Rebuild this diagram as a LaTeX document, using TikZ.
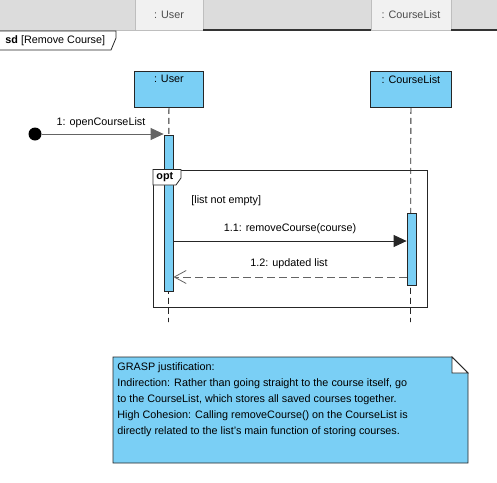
\documentclass[tikz,border=0pt]{standalone}
\usepackage{fontspec}
\setmainfont{Liberation Sans}
\usetikzlibrary{arrows.meta, positioning}
\definecolor{lifeblue}{RGB}{122,207,245}
\definecolor{hdrgray}{RGB}{220,220,220}
\definecolor{tabgray}{RGB}{241,241,241}
\definecolor{edgegray}{RGB}{190,190,190}
\definecolor{msggray}{RGB}{100,100,100}

\tikzset{
  txt/.style = {font=\fontsize{10.8}{13}\selectfont, inner sep=0pt},
  lifebox/.style = {draw=black!85, fill=lifeblue, minimum height=36pt, inner sep=0pt},
  actbar/.style = {draw=black!85, fill=lifeblue, minimum width=9pt, inner sep=0pt},
  lifeline/.style = {black!85, dash pattern=on 6pt off 4pt},
  callmsg/.style = {black!85, -{Triangle[length=13pt, width=12pt]}},
  replymsg/.style = {msggray, dash pattern=on 8pt off 4pt, -{Straight Barb[length=12pt, width=13pt]}}
}

\begin{document}
\begin{tikzpicture}[x=1pt, y=-1pt, line width=0.8pt]
  \useasboundingbox (0,0) rectangle (497,482);

  % header bar
  \fill[hdrgray] (0,0) rectangle (497,30);
  \fill[tabgray] (135,0) rectangle (203,30);
  \fill[tabgray] (371,0) rectangle (451,30);
  \draw[edgegray] (135,0) -- (135,30) (203,0) -- (203,30);
  \draw[edgegray] (371,0) -- (371,30) (451,0) -- (451,30);
  \draw[edgegray] (0,30) -- (497,30);
  \draw[black!80, line width=1.2pt] (203,30) -- (371,30) (451,30) -- (497,30);
  \node[txt, text=black!70] (hdruser) at (169,15) {: User};
  \node[txt, text=black!70] (hdrlist) at (411,15) {: CourseList};

  % sd frame tab
  \draw[black!85, fill=white] (0,31) -- (116,31) -- (116,38) -- (111,50) -- (0,50);
  \node[txt, anchor=west] (sdname) at (5,41) {\textbf{sd} [Remove Course]};

  % lifelines
  \node[lifebox, minimum width=69pt, anchor=north west] (user) at (134,71) {};
  \node[txt, below=4pt of user.north] (userlbl) {: User};
  \node[lifebox, minimum width=81pt, anchor=north west] (list) at (370,71) {};
  \node[txt, below=4pt of list.north] (listlbl) {: CourseList};
  \coordinate (userend) at (168.5,322);
  \coordinate (listend) at (410.5,322);
  \draw[lifeline] (user.south) -- (userend);
  \draw[lifeline] (list.south) -- (listend);

  % opt fragment
  \node[draw=black!85, minimum width=274pt, minimum height=137pt, anchor=north west, inner sep=0pt] (opt) at (153,169.5) {};
  \node[txt, anchor=west] (guard) at (191,201) {[list not empty]};

  % activations
  \node[actbar, minimum height=156pt, anchor=north] (actuser) at (168.5,135) {};
  \node[actbar, minimum height=72pt, anchor=north] (actlist) at (411.5,213) {};

  % opt tab on top
  \draw[black!85, fill=white] (opt.north west) -- (181,169.5) -- (181,178) -- (176,185) -- (153,185) -- cycle;
  \node[txt, anchor=west] (optlbl) at (156,177) {\textbf{opt}};

  % found message
  \node[circle, fill=black, minimum size=13pt, inner sep=0pt] (start) at (35,134) {};
  \coordinate (openend) at (actuser.north west);
  \draw[callmsg, msggray] (start) -- (openend |- start);
  \node[txt] (openlbl) at (101,123) {1: openCourseList};

  % messages
  \coordinate (callfrom) at (actuser.east |- 0,241);
  \coordinate (callto) at (actlist.west |- 0,241);
  \draw[callmsg] (callfrom) -- (callto);
  \node[txt] (calllbl) at (290,229) {1.1: removeCourse(course)};
  \coordinate (replyfrom) at (actlist.west |- 0,277);
  \coordinate (replyto) at (actuser.east |- 0,277);
  \draw[replymsg] (replyfrom) -- (replyto);
  \node[txt] (replylbl) at (289,264) {1.2: updated list};

  % note
  \draw[black!85, fill=lifeblue] (113,357) -- (452,357) -- (468,373) -- (468,463) -- (113,463) -- cycle;
  \draw[black!85, fill=white] (452,357) -- (468,373) -- (452,373) -- cycle;
  \node[txt, anchor=north west, align=left, font=\fontsize{10.8}{16}\selectfont] (note) at (117,362) {GRASP justification:\\
    Indirection: Rather than going straight to the course itself, go\\
    to the CourseList, which stores all saved courses together.\\
    High Cohesion: Calling removeCourse() on the CourseList is\\
    directly related to the list's main function of storing courses.};
\end{tikzpicture}
\end{document}
